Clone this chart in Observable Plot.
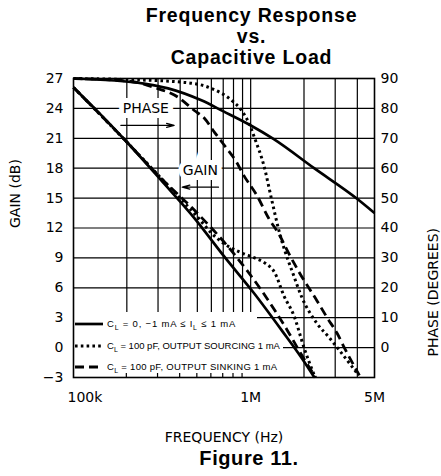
<!DOCTYPE html>
<html>
<head>
<meta charset="utf-8">
<script src="https://cdn.jsdelivr.net/npm/d3@7"></script>
<script src="https://cdn.jsdelivr.net/npm/@observablehq/plot@0.6"></script>
<style>
  html, body { margin: 0; padding: 0; background: #fff; }
  body { width: 441px; height: 476px; overflow: hidden; }
  #title { font-family: "Liberation Sans", Arial, sans-serif; font-weight: bold; font-size: 19.5px;
           line-height: 21px; letter-spacing: 0.8px; text-align: center; box-sizing: border-box;
           width: 441px; height: 68px; padding-top: 5px; padding-left: 62px; color: #000; }
  #caption { font-family: "Liberation Sans", Arial, sans-serif; font-weight: bold; font-size: 20px;
             line-height: 20px; letter-spacing: 0.6px; text-align: center; box-sizing: border-box;
             width: 441px; padding-left: 57px; color: #000; }
  #chart svg { display: block; }
  g[aria-label="phase-ticks"] text { letter-spacing: 3.5px; }
  g[aria-label="axis-title"] text { letter-spacing: 0.8px; }
  g[aria-label="annotation"] text { letter-spacing: 1px; }
</style>
</head>
<body>
<div id="title">Frequency Response<br>vs.<br>Capacitive Load</div>
<div id="chart"></div>
<div id="caption">Figure 11.</div>
<script>
// ---- data (frequency in kHz, gain in dB, phase in degrees) ----
const gainTicks = [-3, 0, 3, 6, 9, 12, 15, 18, 21, 24, 27];
const phaseTicks = [0, 10, 20, 30, 40, 50, 60, 70, 80, 90];
const gridFreqs = [200, 300, 400, 500, 600, 700, 800, 900, 1000, 2000, 3000, 4000];
const minorTickFreqs = [200, 300, 400, 500, 600, 700, 800, 900];
const freqTickValues = [100, 1000, 5000];
const freqTickLabels = ["100k", "1M", "5M"];

// C_L = 0 (solid)
const gainSolidF  = [100, 142, 203, 312, 481, 712, 1040, 1501, 1949, 2290];
const gainSolidDB = [26.1, 23.4, 20.5, 16.8, 13.0, 9.1, 5.5, 1.7, -1.1, -3.0];
const phaseSolidF   = [100, 250, 342, 527, 703, 974, 1351, 2280, 4003, 5000];
const phaseSolidDeg = [90, 88.3, 86.7, 82.7, 79.0, 74.7, 69.7, 60.0, 49.7, 45.0];

// C_L = 100 pF, sourcing (dotted)
const gainDotF  = [100, 203, 312, 507, 600, 712, 889, 1054, 1201, 1369, 1540, 1755, 2000, 2311];
const gainDotDB = [26.1, 20.5, 17.0, 13.0, 11.5, 10.4, 9.5, 9.0, 8.5, 7.5, 5.2, 3.2, 0.0, -3.0];
const phaseDotF   = [100, 185, 422, 600, 780, 889, 974, 1054, 1186, 1316, 1443, 1561, 1710, 1949, 2371, 2780, 3081, 4003];
const phaseDotDeg = [90, 89.7, 88.7, 86.7, 82.7, 79.3, 75.3, 70.0, 61.0, 49.3, 39.2, 32.3, 25.7, 16.7, 8.0, 3.3, 0.0, -8.7];

// C_L = 100 pF, sinking (dashed)
const gainDashF  = [100, 203, 312, 493, 780, 1155, 1602, 1949, 2330];
const gainDashDB = [26.1, 20.5, 17.0, 13.6, 9.7, 5.7, 1.8, -0.8, -3.0];
const phaseDashF   = [100, 211, 285, 390, 481, 548, 625, 703, 833, 912, 1082, 1266, 1443, 1644, 1874, 2371, 2703, 3081, 3376, 4108];
const phaseDashDeg = [90, 89.0, 87.0, 83.7, 79.3, 76.7, 72.0, 68.0, 62.0, 57.7, 51.0, 43.2, 38.0, 31.4, 25.3, 15.6, 10.0, 4.7, 0.0, -9.3];

const legendLabels = [
  "C_L = 0, −1 mA ≤ I_L ≤ 1 mA",
  "C_L = 100 pF, OUTPUT SOURCING 1 mA",
  "C_L = 100 pF, OUTPUT SINKING 1 mA"
];

// annotation labels and arrows (kHz, dB)
const annoText = ["PHASE", "GAIN"];
const annoF = [256, 520];
const annoDB = [24.0, 17.8];
const arrowFrom = [185, 658];
const arrowTo = [370, 411];
const arrowDB = [22.3, 16.1];

// ---- build tables ----
const toRows = (fs, vs) => fs.map((f, i) => ({f, v: vs[i]}));
const phaseToDB = d => d * 27 / 90;

const styles = [
  {w: 2.7, dash: null},
  {w: 3.0, dash: "2.6,3.2"},
  {w: 2.8, dash: "9,5"}
];
const lineOpts = (s, y) => ({x: "f", y, stroke: "black", strokeWidth: s.w, strokeDasharray: s.dash, curve: "monotone-x", strokeLinecap: "butt"});

const xTicks = freqTickValues.map((f, i) => ({f, label: freqTickLabels[i]}));
const annos = annoText.map((t, i) => ({t, f: annoF[i], v: annoDB[i]}));
const arrows = arrowFrom.map((f, i) => ({f1: f, f2: arrowTo[i], v: arrowDB[i]}));

// legend rows (layout)
const legendRowH = [23, 21, 21];
const legendRowW = [183, 209, 207];
const legendSpacing = [0.8, 0, 0.3];

function legendMark(index, scales, values, dims) {
  const left = dims.marginLeft;
  const bottom = dims.height - dims.marginBottom;
  const g = d3.create("svg:g");
  let top = bottom - d3.sum(legendRowH);
  legendLabels.forEach((label, i) => {
    const h = legendRowH[i];
    g.append("rect").attr("x", left + 1).attr("y", top).attr("width", legendRowW[i]).attr("height", h).attr("fill", "white");
    const cy = top + h / 2 + 0.5;
    const ln = g.append("line").attr("x1", left + 2).attr("x2", left + 30).attr("y1", cy).attr("y2", cy)
      .attr("stroke", "black").attr("stroke-width", styles[i].w);
    if (styles[i].dash) ln.attr("stroke-dasharray", styles[i].dash);
    const t = g.append("text").attr("x", left + 34).attr("y", cy).attr("dy", "0.35em")
      .attr("text-anchor", "start")
      .attr("font-family", "'Liberation Sans', Arial, sans-serif").attr("font-size", 9.5)
      .attr("letter-spacing", legendSpacing[i]).attr("fill", "black");
    const parts = label.split("_L");
    parts.forEach((p, k) => {
      t.append("tspan").text(p).attr("dy", k === 0 ? null : -3);
      if (k < parts.length - 1) t.append("tspan").text("L").attr("font-size", 7).attr("dy", 3);
    });
    top += h;
  });
  minorTickFreqs.forEach(f => {
    const x = scales.x(f);
    g.append("line").attr("x1", x).attr("x2", x).attr("y1", bottom).attr("y2", bottom - 4)
      .attr("stroke", "black").attr("stroke-width", 1.2);
  });
  return g.node();
}

const chart = Plot.plot({
  width: 441,
  height: 380,
  marginTop: 10,
  marginBottom: 71,
  marginLeft: 73,
  marginRight: 67,
  style: {fontFamily: "'DejaVu Sans', sans-serif", fontSize: "14px", background: "white", color: "black"},
  x: {type: "log", domain: [100, 5000], axis: null},
  y: {domain: [-3, 27], axis: null},
  marks: [
    Plot.ruleY(gainTicks, {stroke: "black", strokeWidth: 1.2}),
    Plot.ruleX(gridFreqs, {stroke: "black", strokeWidth: 1.2}),
    legendMark,
    Plot.text(annos, {x: "f", y: "v", text: "t", fontSize: 14, fill: "black", stroke: "white", strokeWidth: 10,
      paintOrder: "stroke", strokeLinejoin: "miter", ariaLabel: "annotation"}),
    Plot.arrow(arrows, {x1: "f1", x2: "f2", y1: "v", y2: "v", stroke: "black", strokeWidth: 1.3, headLength: 9, headAngle: 30}),
    Plot.line(toRows(phaseSolidF, phaseSolidDeg), lineOpts(styles[0], d => phaseToDB(d.v))),
    Plot.line(toRows(phaseDotF, phaseDotDeg), lineOpts(styles[1], d => phaseToDB(d.v))),
    Plot.line(toRows(phaseDashF, phaseDashDeg), lineOpts(styles[2], d => phaseToDB(d.v))),
    Plot.line(toRows(gainSolidF, gainSolidDB), lineOpts(styles[0], "v")),
    Plot.line(toRows(gainDotF, gainDotDB), lineOpts(styles[1], "v")),
    Plot.line(toRows(gainDashF, gainDashDB), lineOpts(styles[2], "v")),
    Plot.frame({stroke: "black", strokeWidth: 1.6}),
    // left gain tick labels
    Plot.text(gainTicks, {frameAnchor: "left", y: d => d, text: d => d < 0 ? "−" + (-d) : String(d),
      dx: -10, textAnchor: "end", fontSize: 14, fill: "black"}),
    // right phase tick labels
    Plot.text(phaseTicks, {frameAnchor: "right", y: d => phaseToDB(d), text: d => String(d),
      dx: 6, textAnchor: "start", fontSize: 14, fill: "black", ariaLabel: "phase-ticks"}),
    // bottom frequency labels
    Plot.text(xTicks.slice(0, 1), {x: "f", text: "label", frameAnchor: "bottom", dy: 24, dx: -6, textAnchor: "start", fontSize: 14, fill: "black"}),
    Plot.text(xTicks.slice(1), {x: "f", text: "label", frameAnchor: "bottom", dy: 24, textAnchor: "middle", fontSize: 14, fill: "black"}),
    // axis titles
    Plot.text(["FREQUENCY (Hz)"], {text: d => d, frameAnchor: "bottom", dy: 64, fontSize: 14, fill: "black", ariaLabel: "axis-title"}),
    Plot.text(["GAIN (dB)"], {text: d => d, frameAnchor: "left", dx: -58, rotate: -90, fontSize: 14, fill: "black", ariaLabel: "axis-title"}),
    Plot.text(["PHASE (DEGREES)"], {text: d => d, frameAnchor: "right", dx: 59, rotate: -90, fontSize: 14, fill: "black", ariaLabel: "axis-title"})
  ]
});
document.getElementById("chart").appendChild(chart);
</script>
</body>
</html>
